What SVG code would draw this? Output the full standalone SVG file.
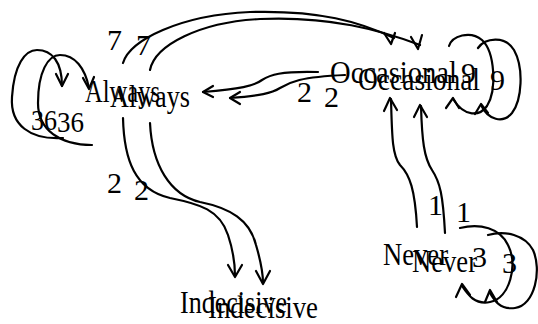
<svg xmlns="http://www.w3.org/2000/svg" width="538" height="324" viewBox="0 0 538 324">
<style>
text{font-family:"Liberation Serif","Times New Roman",serif;font-size:30px;fill:#000}
.n{font-size:32px}
.e{fill:none;stroke:#000;stroke-width:2.2;stroke-linecap:round;stroke-linejoin:round}
</style>
<rect width="538" height="324" fill="#fff"/>
<g id="edges">
  <!-- Always self loop 36 -->
  <path class="e" d="M63,138 C30,140 10,125 12,97 C14,65 25,50 37,50 C52,50 62,62 62,86"/>
  <path class="e" d="M56,74 L62,86 L68,74"/>
  <path class="e" d="M92,145 C60,145 38,130 38,103 C38,72 48,55 60,55 C75,55 85,68 89,88"/>
  <path class="e" d="M83,78 L89,89 L94,77"/>
  <text x="31" y="130" textLength="26" lengthAdjust="spacingAndGlyphs">36</text>
  <text x="57" y="132" textLength="27" lengthAdjust="spacingAndGlyphs">36</text>
  <!-- Always -> Occasional 7 -->
  <path class="e" d="M123,63 C130,40 180,15 250,12 C320,10 360,22 394,38"/>
  <path class="e" d="M384,33 L391,44 L395,33"/>
  <path class="e" d="M150,70 C155,45 200,22 260,19 C330,16 380,30 420,45"/>
  <path class="e" d="M411,37 L418,49 L422,35"/>
  <text x="107" y="50">7</text>
  <text x="136" y="55">7</text>
  <!-- Occasional -> Always 2 -->
  <path class="e" d="M318,72 C280,71 270,75 262,80 C254,86 240,89 203,92"/>
  <path class="e" d="M213,86 L203,92 L213,97"/>
  <path class="e" d="M345,75 C300,77 290,82 280,88 C272,93 260,96 230,98"/>
  <path class="e" d="M240,92 L230,98 L240,104"/>
  <text x="297" y="102">2</text>
  <text x="324" y="107">2</text>
  <!-- Always -> Indecisive 2 -->
  <path class="e" d="M123,118 C124,160 135,190 170,198 C200,204 220,210 228,235 C233,250 235,262 235,276"/>
  <path class="e" d="M228,265 L235,277 L242,265"/>
  <path class="e" d="M150,123 C152,165 170,195 200,202 C230,208 250,220 256,245 C261,262 263,272 263,283"/>
  <path class="e" d="M256,271 L263,284 L270,271"/>
  <text x="107" y="193">2</text>
  <text x="134" y="200">2</text>
  <!-- Never -> Occasional 1 -->
  <path class="e" d="M417,227 C415,190 410,175 400,165 C392,155 392,135 391,99"/>
  <path class="e" d="M384,111 L390,98 L397,110"/>
  <path class="e" d="M445,233 C443,195 440,182 432,170 C424,158 422,140 421,106"/>
  <path class="e" d="M414,117 L420,105 L427,117"/>
  <text x="428" y="215">1</text>
  <text x="456" y="222">1</text>
  <!-- Occasional self loop 9 -->
  <path class="e" d="M449,46 C452,36 470,30 482,40 C495,52 497,90 487,106 C480,116 465,118 453,99"/>
  <path class="e" d="M446,108 L453,98 L459,108"/>
  <path class="e" d="M478,48 C485,38 505,35 514,50 C524,68 522,100 512,113 C503,124 488,120 481,105"/>
  <path class="e" d="M475,114 L481,104 L488,113"/>
  <text x="461" y="83">9</text>
  <text x="490" y="90">9</text>
  <!-- Never self loop 3 -->
  <path class="e" d="M460,228 C480,223 500,228 508,245 C518,265 510,298 490,302 C475,305 468,295 462,286"/>
  <path class="e" d="M456,297 L462,284 L470,295"/>
  <path class="e" d="M488,235 C505,230 525,235 533,250 C542,270 535,305 515,308 C500,310 494,300 490,293"/>
  <path class="e" d="M485,302 L490,290 L497,302"/>
  <text x="472" y="267">3</text>
  <text x="502" y="273">3</text>
</g>
<g id="always">
  <text class="n" x="85" y="102" textLength="75" lengthAdjust="spacingAndGlyphs">Always</text>
  <text class="n" x="110" y="107" textLength="80" lengthAdjust="spacingAndGlyphs">Always</text>
</g>
<g id="occasional">
  <text class="n" x="330" y="83" textLength="127" lengthAdjust="spacingAndGlyphs">Occasional</text>
  <text class="n" x="358" y="90" textLength="122" lengthAdjust="spacingAndGlyphs">Occasional</text>
</g>
<g id="indecisive">
  <text class="n" x="180" y="313" textLength="107" lengthAdjust="spacingAndGlyphs">Indecisive</text>
  <text class="n" x="208" y="318" textLength="110" lengthAdjust="spacingAndGlyphs">Indecisive</text>
</g>
<g id="never">
  <text class="n" x="383" y="265" textLength="65" lengthAdjust="spacingAndGlyphs">Never</text>
  <text class="n" x="412" y="272" textLength="65" lengthAdjust="spacingAndGlyphs">Never</text>
</g>
</svg>
